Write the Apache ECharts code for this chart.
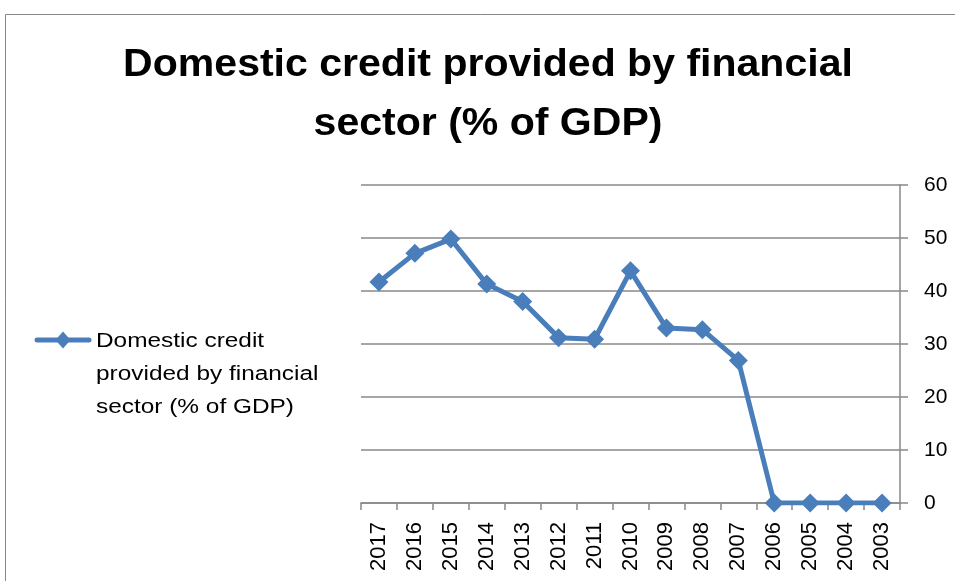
<!DOCTYPE html>
<html>
<head>
<meta charset="utf-8">
<script src="https://cdn.jsdelivr.net/npm/echarts@6/dist/echarts.min.js"></script>
<style>
  html, body { margin: 0; padding: 0; background: #fff; }
  #chart { width: 955px; height: 581px; }
</style>
</head>
<body>
<div id="chart"></div>
<script>
// Years, newest first, as listed along the category axis
const years = ['2017', '2016', '2015', '2014', '2013', '2012', '2011', '2010',
               '2009', '2008', '2007', '2006', '2005', '2004', '2003'];
// Domestic credit provided by financial sector (% of GDP)
const creditValues = [41.7, 47.1, 49.8, 41.3, 38.0, 31.2, 30.9, 43.8,
                      33.0, 32.7, 26.9, 0, 0, 0, 0];
const seriesName = 'Domestic credit provided by financial sector (% of GDP)';
const titleLines = ['Domestic credit provided by financial', 'sector (% of GDP)'];
const legendLines = ['Domestic credit', 'provided by financial', 'sector (% of GDP)'];
const yTicks = [0, 10, 20, 30, 40, 50, 60];

const chart = echarts.init(document.getElementById('chart'), null, { renderer: 'canvas' });
const blue = '#4A7EBB';
const grey = '#888888';
const font = '"Liberation Sans", Arial, sans-serif';

// one bold title line, centred on the chart, slightly widened
function titleLine(text, y) {
  return {
    type: 'text',
    x: 488,
    y: y,
    scaleX: 1.08,
    style: {
      text: text,
      font: 'bold 38px ' + font,
      fill: '#000',
      align: 'center',
      verticalAlign: 'middle'
    }
  };
}

chart.setOption({
  animation: false,
  backgroundColor: '#ffffff',
  graphic: [
    {
      // outer chart frame
      type: 'rect',
      shape: { x: 5.5, y: 14.5, width: 1000, height: 700 },
      style: { fill: 'none', stroke: grey, lineWidth: 1 },
      silent: true
    },
    titleLine(titleLines[0], 65.5),
    titleLine(titleLines[1], 124.5),
    {
      // legend entry: line sample with a diamond
      type: 'group',
      x: 35,
      y: 333,
      children: [
        { type: 'line', shape: { x1: 2, y1: 7, x2: 54, y2: 7 },
          style: { stroke: blue, lineWidth: 5, lineCap: 'round' } },
        { type: 'polygon', shape: { points: [[28, -1.5], [35.5, 7], [28, 15.5], [20.5, 7]] },
          style: { fill: blue } }
      ]
    },
    {
      type: 'text',
      x: 96,
      y: 374.5,
      scaleX: 1.22,
      style: {
        text: legendLines.join('\n'),
        font: '20px ' + font,
        fill: '#000',
        verticalAlign: 'middle',
        lineHeight: 33
      }
    }
  ],
  grid: { left: 361, right: 55, top: 185, bottom: 78, containLabel: false },
  xAxis: {
    type: 'category',
    data: years,
    boundaryGap: true,
    axisLine: { show: true, lineStyle: { color: grey, width: 1.5 } },
    axisTick: { show: true, alignWithLabel: false, length: 7, lineStyle: { color: grey, width: 1.5 } },
    axisLabel: { rotate: 90, color: '#000', fontSize: 22, fontFamily: font, margin: 19, interval: 0 },
    splitLine: { show: false }
  },
  yAxis: {
    type: 'value',
    position: 'right',
    min: 0,
    max: 60,
    interval: 10,
    axisLine: { show: true, lineStyle: { color: grey, width: 1.5 } },
    axisTick: { show: true, inside: false, length: 8, lineStyle: { color: grey, width: 1.5 } },
    axisLabel: { color: '#000', fontSize: 21, fontFamily: font, margin: 24,
                 formatter: v => (yTicks.includes(v) ? String(v) : '') },
    splitLine: { show: true, lineStyle: { color: grey, width: 1.5 } }
  },
  series: [{
    name: seriesName,
    type: 'line',
    data: creditValues,
    lineStyle: { color: blue, width: 5 },
    itemStyle: { color: blue },
    symbol: 'diamond',
    symbolSize: 19,
    showSymbol: true
  }]
});
</script>
</body>
</html>
